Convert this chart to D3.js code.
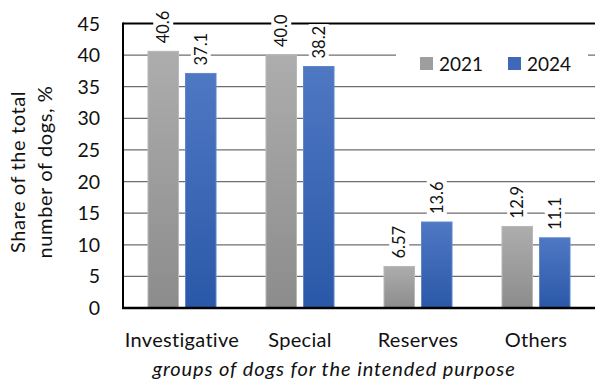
<!DOCTYPE html>
<html>
<head>
<meta charset="utf-8">
<script src="https://cdn.jsdelivr.net/npm/d3@7"></script>
<style>
  body { margin: 0; background: #fff; }
  svg { display: block; font-family: Lato, "Open Sans", sans-serif; }
</style>
</head>
<body>
<svg id="chart" width="595" height="387"></svg>
<script>
// data
const categories = ["Investigative", "Special", "Reserves", "Others"];
const years = ["2021", "2024"];
const values2021 = [40.6, 40.0, 6.57, 12.9];
const values2024 = [37.1, 38.2, 13.6, 11.1];
const labels2021 = ["40.6", "40.0", "6.57", "12.9"];
const labels2024 = ["37.1", "38.2", "13.6", "11.1"];
const yTicks = [0, 5, 10, 15, 20, 25, 30, 35, 40, 45];

const plotLeft = 123, plotRight = 595, plotTop = 23.5, plotBottom = 308;

const svg = d3.select("#chart");

const x0 = d3.scaleBand().domain(categories).range([plotLeft, plotRight])
  .paddingInner(0.415).paddingOuter(0.2075);
const x1 = d3.scaleBand().domain(years).range([0, x0.bandwidth()])
  .paddingInner(0.16);
const y = d3.scaleLinear().domain([0, 45]).range([plotBottom, plotTop]);

// gradients
const defs = svg.append("defs");
function grad(id, c1, c2) {
  const g = defs.append("linearGradient").attr("id", id)
    .attr("x1", 0).attr("y1", 0).attr("x2", 0).attr("y2", 1);
  g.append("stop").attr("offset", "0%").attr("stop-color", c1);
  g.append("stop").attr("offset", "100%").attr("stop-color", c2);
}
grad("g2021", "#adadad", "#8c8c8c");
grad("g2024", "#4f78c3", "#2a58a8");
const fills = { "2021": "url(#g2021)", "2024": "url(#g2024)" };
const strokes = { "2021": "#b8b8b8", "2024": "#5f86cc" };
const legendFills = { "2021": "#9e9e9e", "2024": "#3f69b8" };

// gridlines
svg.append("g").selectAll("line")
  .data(yTicks.filter(d => d > 0 && d < 45))
  .enter().append("line")
  .attr("x1", plotLeft).attr("x2", plotRight)
  .attr("y1", d => y(d)).attr("y2", d => y(d))
  .attr("stroke", "#6e6e6e").attr("stroke-width", 1.3);

// top border
svg.append("line")
  .attr("x1", plotLeft).attr("x2", plotRight)
  .attr("y1", y(45)).attr("y2", y(45))
  .attr("stroke", "#000").attr("stroke-width", 2);

// bars
const rows = categories.map((c, i) => ({
  cat: c,
  items: [
    { year: "2021", v: values2021[i], label: labels2021[i] },
    { year: "2024", v: values2024[i], label: labels2024[i] }
  ]
}));

const groups = svg.append("g").selectAll("g")
  .data(rows).enter().append("g")
  .attr("transform", d => `translate(${x0(d.cat)},0)`);

groups.selectAll("rect")
  .data(d => d.items).enter().append("rect")
  .attr("x", d => x1(d.year) + 0.5)
  .attr("width", x1.bandwidth() - 1)
  .attr("y", d => y(d.v))
  .attr("height", d => y(0) - y(d.v))
  .attr("fill", d => fills[d.year])
  .attr("stroke", d => strokes[d.year])
  .attr("stroke-width", 1);

// value labels, rotated, with white background
const lab = groups.selectAll("g.lab")
  .data(d => d.items).enter().append("g")
  .attr("class", "lab")
  .attr("transform", d =>
    `translate(${x1(d.year) + x1.bandwidth() / 2},${y(d.v) - 8}) rotate(-90)`);

lab.append("rect")
  .attr("x", -2)
  .attr("y", -10)
  .attr("width", d => d.label.length * 8.6 + 2)
  .attr("height", 20)
  .attr("fill", "#fff");

lab.append("text")
  .attr("x", 0)
  .attr("y", 0)
  .attr("dy", "0.35em")
  .attr("text-anchor", "start")
  .style("font-size", "16.5px")
  .attr("fill", "#111")
  .text(d => d.label);

// legend
const legend = svg.append("g");
legend.append("rect")
  .attr("x", 396).attr("y", 43).attr("width", 192).attr("height", 38)
  .attr("fill", "#fff");
const legX = { "2021": 420, "2024": 508 };
years.forEach(yr => {
  legend.append("rect")
    .attr("x", legX[yr]).attr("y", 57).attr("width", 13).attr("height", 13)
    .attr("fill", legendFills[yr]);
  legend.append("text")
    .attr("x", legX[yr] + 19).attr("y", 71)
    .style("font-size", "19px").attr("fill", "#111")
    .text(yr);
});

// axes lines
svg.append("line")
  .attr("x1", plotLeft).attr("x2", plotLeft)
  .attr("y1", y(45) - 1).attr("y2", plotBottom + 1)
  .attr("stroke", "#000").attr("stroke-width", 2);
svg.append("line")
  .attr("x1", plotLeft - 1).attr("x2", plotRight)
  .attr("y1", plotBottom).attr("y2", plotBottom)
  .attr("stroke", "#000").attr("stroke-width", 2.5);

// y tick labels
svg.append("g").selectAll("text")
  .data(yTicks).enter().append("text")
  .attr("x", 100)
  .attr("y", d => y(d))
  .attr("dy", "0.36em")
  .attr("text-anchor", "end")
  .style("font-size", "19.5px")
  .attr("fill", "#111")
  .text(d => d);

// category labels
svg.append("g").selectAll("text")
  .data(categories).enter().append("text")
  .attr("x", d => x0(d) + x0.bandwidth() / 2)
  .attr("y", 347)
  .attr("text-anchor", "middle")
  .style("font-size", "20px")
  .style("letter-spacing", "0.3px")
  .attr("fill", "#111")
  .text(d => d);

// x title
svg.append("text")
  .attr("x", 334).attr("y", 376)
  .attr("text-anchor", "middle")
  .style("font-size", "20px")
  .style("font-style", "italic")
  .style("letter-spacing", "0.9px")
  .attr("fill", "#111")
  .text("groups of dogs for the intended purpose");

// y title
const yt = svg.append("text")
  .attr("transform", "translate(0,172) rotate(-90)")
  .attr("text-anchor", "middle")
  .style("font-size", "20px")
  .style("letter-spacing", "0.6px")
  .attr("fill", "#111");
yt.append("tspan").attr("x", 0).attr("y", 25).text("Share of the total");
yt.append("tspan").attr("x", 0).attr("y", 52).text("number of dogs, %");
</script>
</body>
</html>
